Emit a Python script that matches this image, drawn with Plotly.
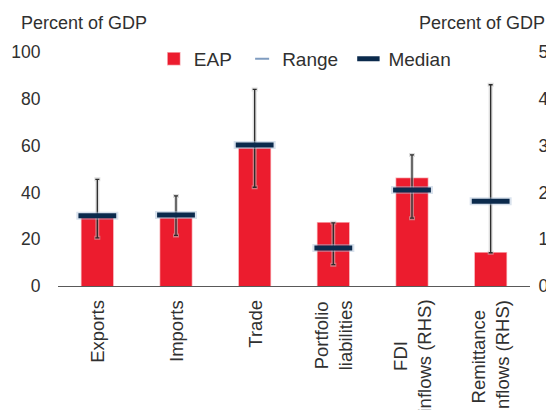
import plotly.graph_objects as go

# ---- data ----
categories = ["Exports", "Imports", "Trade", "Portfolio liabilities",
              "FDI inflows (RHS)", "Remittance inflows (RHS)"]
tick_labels = ["Exports", "Imports", "Trade", "Portfolio<br>liabilities",
               "FDI<br>inflows (RHS)", "Remittance<br>inflows (RHS)"]
lhs_cats = categories[:4]
rhs_cats = categories[4:]

eap_lhs = [30.3, 29.0, 58.8, 27.0]
eap_rhs = [2.30, 0.71]
median_lhs = [30.0, 30.3, 60.3, 16.2]
median_rhs = [2.05, 1.81]
range_min_lhs = [20.6, 21.6, 42.2, 9.1]
range_max_lhs = [45.6, 38.5, 84.0, 27.0]
range_min_rhs = [1.45, 0.71]
range_max_rhs = [2.80, 4.30]

left_ticks = [0, 20, 40, 60, 80, 100]
right_ticks = [0, 1, 2, 3, 4, 5]

# ---- styles ----
RED = "#ec1c2e"
NAVY = "#0b2a4c"
HALO = "rgba(170,190,215,0.45)"
RANGE_C = "#2b2b2b"
RANGE_HALO = "rgba(195,195,195,0.55)"
TXT = "#303030"
FONT = "Liberation Sans, Arial, sans-serif"
NB = "\u00a0"

fig = go.Figure()

# bars
fig.add_trace(go.Bar(x=lhs_cats, y=eap_lhs, name="EAP" + NB, marker_color=RED,
                     marker_line=dict(color="rgba(236,28,46,0.35)", width=1.5),
                     width=0.4, yaxis="y", legendgroup="eap"))
fig.add_trace(go.Bar(x=rhs_cats, y=eap_rhs, name="EAP", marker_color=RED,
                     marker_line=dict(color="rgba(236,28,46,0.35)", width=1.5),
                     width=0.4, yaxis="y2", legendgroup="eap", showlegend=False))


def range_traces(cats, lo, hi, axis):
    span = [h - l for h, l in zip(hi, lo)]
    zeros = [0] * len(lo)
    out = []
    for color, thick, w in ((RANGE_HALO, 4, 3), (RANGE_C, 1.3, 2)):
        out.append(go.Scatter(
            x=cats, y=lo, mode="markers", yaxis=axis, showlegend=False,
            marker=dict(size=1, opacity=0), hoverinfo="skip",
            error_y=dict(type="data", symmetric=False, array=span,
                         arrayminus=zeros, color=color, thickness=thick,
                         width=w)))
    return out


for t in range_traces(lhs_cats, range_min_lhs, range_max_lhs, "y"):
    fig.add_trace(t)
for t in range_traces(rhs_cats, range_min_rhs, range_max_rhs, "y2"):
    fig.add_trace(t)

# legend entry for Range
fig.add_trace(go.Scatter(x=[None], y=[None], mode="markers",
                         name="Range" + NB,
                         marker=dict(symbol="line-ew", size=10,
                                     line=dict(color="#7f9cc0", width=2))))

# medians (halo + mark)
for cats, vals, axis, show in ((lhs_cats, median_lhs, "y", True),
                               (rhs_cats, median_rhs, "y2", False)):
    fig.add_trace(go.Scatter(x=cats, y=vals, mode="markers", yaxis=axis,
                             showlegend=False, hoverinfo="skip",
                             marker=dict(symbol="line-ew", size=30,
                                         line=dict(color=HALO, width=8))))
    fig.add_trace(go.Scatter(x=cats, y=vals, mode="markers", yaxis=axis,
                             name="Median", showlegend=show,
                             legendgroup="median",
                             marker=dict(symbol="line-ew", size=27,
                                         line=dict(color=NAVY, width=5))))

# x labels as centred rotated annotations
annotations = []
for c, lab in zip(categories, tick_labels):
    annotations.append(dict(x=c, xref="x", y=0, yref="paper", yshift=-12,
                            text=lab, textangle=-90, showarrow=False,
                            xanchor="center", yanchor="top", align="center",
                            font=dict(family=FONT, size=18.5, color=TXT)))
annotations.append(dict(x=-0.083, xref="paper", y=1.124, yref="paper",
                        text="Percent of GDP", showarrow=False,
                        xanchor="left", yanchor="middle",
                        font=dict(family=FONT, size=18, color=TXT)))
annotations.append(dict(x=1.035, xref="paper", y=1.124, yref="paper",
                        text="Percent of GDP", showarrow=False,
                        xanchor="right", yanchor="middle",
                        font=dict(family=FONT, size=18, color=TXT)))

# the page body adds an 8px margin, so the figure is sized to fill the rest
fig.update_layout(
    width=546, height=402,
    margin=dict(l=50, r=24, t=44, b=124, pad=0, autoexpand=False),
    paper_bgcolor="white", plot_bgcolor="white",
    barmode="overlay",
    font=dict(family=FONT, size=17, color=TXT),
    showlegend=True,
    legend=dict(orientation="h", x=0.203, y=0.97, xanchor="left",
                yanchor="middle", font=dict(family=FONT, size=19, color=TXT),
                bgcolor="rgba(0,0,0,0)", itemwidth=30),
    xaxis=dict(type="category", categoryorder="array",
               categoryarray=categories, range=[-0.5, 5.5],
               showticklabels=False, ticks="", showgrid=False,
               showline=True, linecolor="#595959", linewidth=1.3,
               zeroline=False),
    yaxis=dict(range=[0, 100], tickvals=left_ticks, showgrid=False,
               zeroline=False, showline=False, ticks="outside", ticklen=13,
               tickcolor="rgba(0,0,0,0)",
               tickfont=dict(family=FONT, size=17.5, color=TXT)),
    yaxis2=dict(range=[0, 5], tickvals=right_ticks, overlaying="y",
                side="right", showgrid=False, zeroline=False, showline=False,
                ticks="outside", ticklen=4, tickcolor="rgba(0,0,0,0)",
                tickfont=dict(family=FONT, size=17.5, color=TXT)),
    annotations=annotations,
)

fig.write_html("out.html")
